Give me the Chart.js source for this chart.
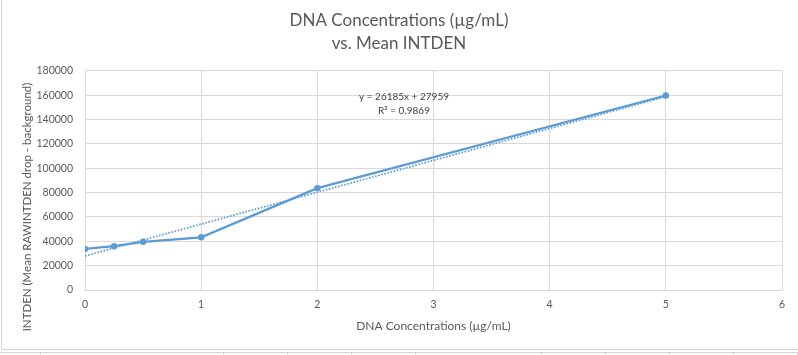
<!DOCTYPE html>
<html>
<head>
<meta charset="utf-8">
<script src="https://cdn.jsdelivr.net/npm/chart.js@4"></script>
<style>
  html, body { margin: 0; padding: 0; background: #ffffff; }
  #wrap { width: 798px; height: 355px; position: relative; }
</style>
</head>
<body>
<div id="wrap"><canvas id="c" width="798" height="355"></canvas></div>
<script>
// ---- data ----
const chartTitle = ['DNA Concentrations (µg/mL)', 'vs. Mean INTDEN'];
const xAxisTitle = 'DNA Concentrations (µg/mL)';
const yAxisTitle = 'INTDEN (Mean RAWINTDEN drop - background)';
const concentrations = [0, 0.25, 0.5, 1, 2, 5];
const meanIntden = [33700, 36000, 39600, 43300, 83700, 159800];
const xTickValues = [0, 1, 2, 3, 4, 5, 6];
const yTickValues = [0, 20000, 40000, 60000, 80000, 100000, 120000, 140000, 160000, 180000];
const trendSlope = 26185;
const trendIntercept = 27959;
const equationLines = ['y = 26185x + 27959', 'R² = 0.9869'];
const equationAnchor = { x: 2.746, y: 159100 };

const FONT = 'Lato, "Open Sans", sans-serif';
const TXT = '#595959';
const GRID = '#d9d9d9';
const BLUE = '#5b9bd5';

const points = concentrations.map((x, i) => ({ x: x, y: meanIntden[i] }));
const trendX = [Math.min(...concentrations), Math.max(...concentrations)];
const trendPoints = trendX.map(x => ({ x: x, y: trendSlope * x + trendIntercept }));

const decor = {
  id: 'decor',
  beforeDraw(chart) {
    const ctx = chart.ctx;
    ctx.save();
    ctx.fillStyle = '#ffffff';
    ctx.fillRect(0, 0, chart.width, chart.height);
    ctx.restore();
  },
  afterDraw(chart) {
    const ctx = chart.ctx;
    const xs = chart.scales.x, ys = chart.scales.y;
    ctx.save();
    // frame
    ctx.strokeStyle = '#d4d4d4';
    ctx.lineWidth = 1;
    ctx.beginPath();
    ctx.moveTo(1.5, 0); ctx.lineTo(1.5, 349.5); ctx.lineTo(798, 349.5);
    ctx.stroke();
    ctx.beginPath();
    ctx.moveTo(0, 352.5); ctx.lineTo(798, 352.5);
    [40, 223, 287, 351, 415, 541, 605, 669, 733, 797].forEach(px => {
      ctx.moveTo(px + 0.5, 352.5); ctx.lineTo(px + 0.5, 355);
    });
    ctx.stroke();
    // y axis title
    ctx.fillStyle = TXT;
    ctx.font = '11.5px ' + FONT;
    ctx.textAlign = 'center';
    ctx.textBaseline = 'middle';
    ctx.translate(27, 207);
    ctx.rotate(-Math.PI / 2);
    ctx.fillText(yAxisTitle, 0, 0);
    ctx.restore();
    // trendline equation
    ctx.save();
    ctx.fillStyle = '#404040';
    ctx.font = '10px ' + FONT;
    ctx.textAlign = 'center';
    ctx.textBaseline = 'middle';
    const ex = xs.getPixelForValue(equationAnchor.x);
    const ey = ys.getPixelForValue(equationAnchor.y);
    equationLines.forEach((t, i) => ctx.fillText(t, ex, ey + i * 14.5));
    ctx.restore();
  }
};

new Chart(document.getElementById('c'), {
  type: 'scatter',
  data: {
    datasets: [
      {
        label: 'Linear (Mean INTDEN)',
        data: trendPoints,
        showLine: true,
        borderColor: BLUE,
        borderWidth: 1.75,
        borderDash: [1.6, 1.6],
        pointRadius: 0,
        order: 0
      },
      {
        label: 'Mean INTDEN',
        data: points,
        showLine: true,
        borderColor: BLUE,
        backgroundColor: BLUE,
        borderWidth: 2.25,
        pointRadius: 3.2,
        pointBorderWidth: 0,
        pointBackgroundColor: BLUE,
        order: 1
      }
    ]
  },
  options: {
    responsive: false,
    animation: false,
    layout: { padding: { left: 0, right: 0, top: 0, bottom: 0 } },
    plugins: {
      legend: { display: false },
      tooltip: { enabled: false },
      title: {
        display: true,
        text: chartTitle,
        color: TXT,
        font: { family: FONT, size: 17, weight: 'normal', lineHeight: 1.35 },
        padding: { top: 9, bottom: 16 }
      }
    },
    scales: {
      x: {
        type: 'linear',
        min: 0, max: 6,
        afterBuildTicks: s => { s.ticks = xTickValues.map(v => ({ value: v })); },
        afterFit: s => { s.height = 65; },
        grid: { color: GRID, lineWidth: 1, drawTicks: false },
        border: { display: true, color: GRID },
        ticks: { color: TXT, font: { family: FONT, size: 10.5 }, padding: 8, maxRotation: 0,
                 callback: v => String(v) },
        title: {
          display: true, text: xAxisTitle, color: TXT,
          font: { family: FONT, size: 12 },
          padding: { top: 0, bottom: 22 }
        }
      },
      y: {
        type: 'linear',
        min: 0, max: 180000,
        afterBuildTicks: s => { s.ticks = yTickValues.map(v => ({ value: v })); },
        afterFit: s => { s.width = 85; },
        grid: { color: GRID, lineWidth: 1, drawTicks: false },
        border: { display: false },
        ticks: { color: TXT, font: { family: FONT, size: 10.5 }, padding: 12,
                 callback: v => String(v) }
      },
      yR: {
        type: 'linear',
        position: 'right',
        display: true,
        afterFit: s => { s.width = 16; },
        grid: { display: false, drawTicks: false },
        border: { display: false },
        ticks: { display: false }
      }
    }
  },
  plugins: [decor]
});
</script>
</body>
</html>
